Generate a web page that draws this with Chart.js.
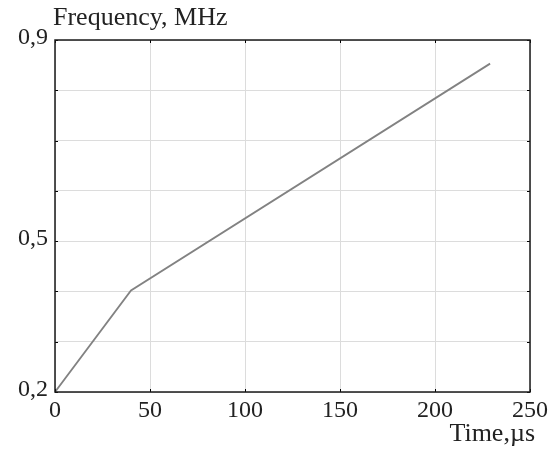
<!DOCTYPE html>
<html>
<head>
<meta charset="utf-8">
<script src="https://cdn.jsdelivr.net/npm/chart.js@4/dist/chart.umd.min.js"></script>
<style>
  html, body { margin: 0; padding: 0; background: #fff; }
  #wrap { width: 554px; height: 455px; position: relative; }
</style>
</head>
<body>
<div id="wrap"><canvas id="c" width="554" height="455"></canvas></div>
<script>
// Data
const timeUs = [0, 40, 229];
const freqMHz = [0.2, 0.402, 0.853];
const yLabeledTicks = [0.2, 0.5, 0.9];
const xTickValues = [0, 50, 100, 150, 200, 250];
const yAxisTitle = 'Frequency, MHz';
const xAxisTitle = 'Time,\u00b5s';

const SERIF = '"Liberation Serif", "Times New Roman", serif';

const framePlugin = {
  id: 'frame',
  afterDraw(chart) {
    const { ctx, chartArea: a, scales } = chart;
    ctx.save();
    // inward tick marks
    ctx.strokeStyle = '#000';
    ctx.lineWidth = 1;
    const tl = 3;
    scales.x.ticks.forEach(t => {
      const px = Math.round(scales.x.getPixelForValue(t.value)) + 0.5;
      ctx.beginPath();
      ctx.moveTo(px, a.top); ctx.lineTo(px, a.top + tl);
      ctx.moveTo(px, a.bottom); ctx.lineTo(px, a.bottom - tl);
      ctx.stroke();
    });
    scales.y.ticks.forEach(t => {
      const py = Math.round(scales.y.getPixelForValue(t.value)) + 0.5;
      ctx.beginPath();
      ctx.moveTo(a.left, py); ctx.lineTo(a.left + tl, py);
      ctx.moveTo(a.right, py); ctx.lineTo(a.right - tl, py);
      ctx.stroke();
    });
    // frame
    ctx.lineWidth = 1.5;
    ctx.strokeStyle = '#1a1a1a';
    ctx.strokeRect(a.left, a.top, a.right - a.left, a.bottom - a.top);
    // titles
    ctx.fillStyle = '#222';
    ctx.font = '26px ' + SERIF;
    ctx.textBaseline = 'alphabetic';
    ctx.textAlign = 'left';
    ctx.fillText(yAxisTitle, a.left - 2, 25);
    ctx.textAlign = 'right';
    ctx.fillText(xAxisTitle, a.right + 5, 441);
    ctx.restore();
  }
};

new Chart(document.getElementById('c'), {
  type: 'scatter',
  data: {
    datasets: [{
      data: timeUs.map((t, i) => ({ x: t, y: freqMHz[i] })),
      showLine: true,
      borderColor: '#828282',
      borderWidth: 1.8,
      pointRadius: 0,
      fill: false,
      tension: 0
    }]
  },
  options: {
    responsive: false,
    animation: false,
    devicePixelRatio: 1,
    layout: { padding: { top: 40, right: 24, left: 0, bottom: 0 } },
    plugins: { legend: { display: false }, tooltip: { enabled: false }, title: { display: false } },
    scales: {
      x: {
        type: 'linear',
        min: 0, max: 250,
        afterBuildTicks(scale) { scale.ticks = xTickValues.map(v => ({ value: v })); },
        afterFit(scale) { scale.height = 63; },
        grid: { color: '#dcdcdc', lineWidth: 1, drawTicks: false },
        border: { display: false },
        ticks: {
          font: { family: SERIF, size: 24 },
          color: '#222',
          padding: 4,
          maxRotation: 0,
          callback: v => String(v)
        }
      },
      y: {
        type: 'linear',
        min: 0.2, max: 0.9,
        afterBuildTicks(scale) {
          const arr = [];
          for (let i = 2; i <= 9; i++) arr.push({ value: i / 10 });
          scale.ticks = arr;
        },
        afterFit(scale) { scale.width = 55; },
        grid: { color: '#dcdcdc', lineWidth: 1, drawTicks: false },
        border: { display: false },
        ticks: {
          font: { family: SERIF, size: 24 },
          color: '#222',
          padding: 7,
          labelOffset: -2,
          callback: v => {
            const r = Math.round(v * 10) / 10;
            return yLabeledTicks.includes(r) ? r.toFixed(1).replace('.', ',') : '';
          }
        }
      }
    }
  },
  plugins: [framePlugin]
});
</script>
</body>
</html>
